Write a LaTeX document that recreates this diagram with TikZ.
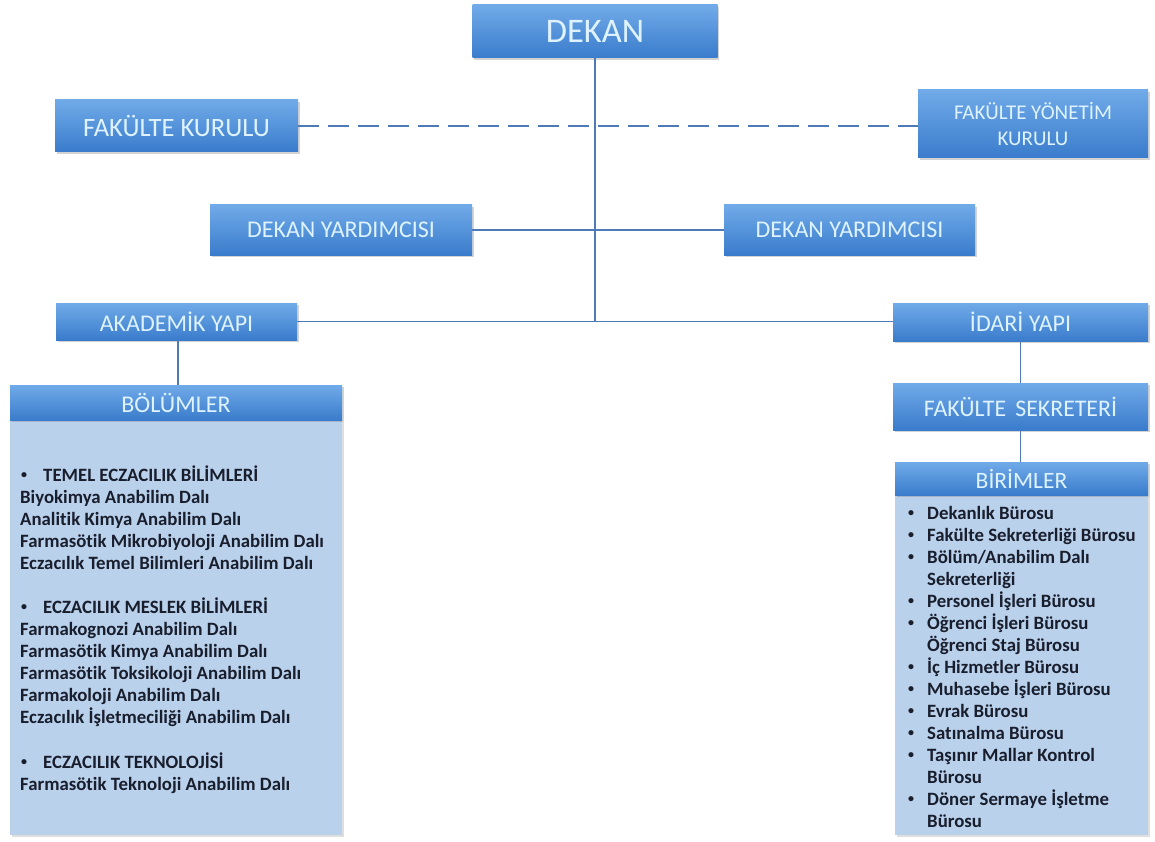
\documentclass[tikz,border=0pt]{standalone}
\usepackage{fontspec}
\setmainfont{Carlito}[Ligatures=NoCommon]
\usetikzlibrary{shadows}
\definecolor{boxtop}{RGB}{112,170,232}
\definecolor{boxbot}{RGB}{58,124,204}
\definecolor{boxtext}{RGB}{222,243,255}
\definecolor{bodyfill}{RGB}{186,209,236}
\definecolor{linec}{RGB}{78,122,184}
\definecolor{bodytext}{RGB}{25,30,45}
\tikzset{
  bluebox/.style={rectangle, inner sep=2pt, top color=boxtop, bottom color=boxbot, draw=none,
    text=boxtext, align=center,
    drop shadow={opacity=0.35, shadow xshift=1.5pt, shadow yshift=-2pt}},
  bodybox/.style={rectangle, fill=bodyfill, draw=none,
    drop shadow={opacity=0.25, shadow xshift=1.5pt, shadow yshift=-2pt}},
  conn/.style={draw=linec, line width=1.8pt},
  dashconn/.style={draw=linec, line width=2.4pt, dash pattern=on 21pt off 9pt},
  itemtxt/.style={anchor=base west, inner sep=0pt, text=bodytext, font=\fontsize{18.8}{20}\selectfont\bfseries},
  bul/.style={anchor=base west, inner sep=0pt, text=bodytext, font=\fontsize{12}{12}\selectfont\bfseries},
}
\begin{document}
\begin{tikzpicture}[x=1pt,y=-1pt]
\useasboundingbox (0,0) rectangle (1155,842);
% body boxes
\node[bodybox, minimum width=332pt, minimum height=415pt] (bolbody) at (176,627.5) {};
\node[bodybox, minimum width=253pt, minimum height=340pt] (birbody) at (1021.5,665) {};
% boxes
\node[bluebox, minimum width=245pt, minimum height=53pt, font=\fontsize{34.5}{38}\selectfont] (dekan) at (595,31.5) {DEKAN};
\node[bluebox, minimum width=243pt, minimum height=52pt, font=\fontsize{26.5}{30}\selectfont] (fk) at (176.5,126) {FAKÜLTE KURULU};
\node[bluebox, minimum width=230pt, minimum height=68pt, font=\fontsize{21}{26}\selectfont] (fyk) at (1033,124) {FAKÜLTE YÖNETİM\\KURULU};
\node[bluebox, minimum width=262pt, minimum height=50pt, font=\fontsize{24}{28}\selectfont] (dy1) at (341,230) {DEKAN YARDIMCISI};
\node[bluebox, minimum width=251pt, minimum height=50pt, font=\fontsize{24}{28}\selectfont] (dy2) at (849.5,230) {DEKAN YARDIMCISI};
\node[bluebox, minimum width=241pt, minimum height=37pt, font=\fontsize{24}{28}\selectfont] (ay) at (176.5,321.5) {AKADEMİK YAPI};
\node[bluebox, minimum width=255pt, minimum height=38pt, font=\fontsize{24}{28}\selectfont] (iy) at (1020.5,322) {İDARİ YAPI};
\node[bluebox, minimum width=255pt, minimum height=47pt, font=\fontsize{23.8}{28}\selectfont] (fs) at (1020.5,406.5) {FAKÜLTE \,SEKRETERİ};
\node[bluebox, minimum width=332pt, minimum height=35pt, font=\fontsize{24}{28}\selectfont] (bol) at (176,402.5) {BÖLÜMLER};
\node[bluebox, minimum width=253pt, minimum height=33pt, font=\fontsize{23.5}{28}\selectfont] (bir) at (1021.5,478.5) {BİRİMLER};
% connectors
\draw[dashconn] (fk.east) -- (fk.east -| fyk.west);
\draw[conn] (dekan.south) -- (dekan.south |- ay.east);
\draw[conn] (dy1.east) -- (dy2.west);
\draw[conn] (ay.east) -- (ay.east -| iy.west);
\draw[conn] (ay.south -| 178,0) -- (bol.north -| 178,0);
\draw[conn] (iy.south) -- (fs.north);
\draw[conn] (fs.south) -- (fs.south |- bir.north);
% BÖLÜMLER text
\node[bul] (bb1) at (21,478) {•};
\node[itemtxt] (b1h) at (43,481) {TEMEL ECZACILIK BİLİMLERİ};
\node[itemtxt] (b1a) at (20,503) {Biyokimya Anabilim Dalı};
\node[itemtxt] (b1b) at (20,525) {Analitik Kimya Anabilim Dalı};
\node[itemtxt] (b1c) at (20,547) {Farmasötik Mikrobiyoloji Anabilim Dalı};
\node[itemtxt] (b1d) at (20,569) {Eczacılık Temel Bilimleri Anabilim Dalı};
\node[bul] (bb2) at (21,610) {•};
\node[itemtxt] (b2h) at (43,613) {ECZACILIK MESLEK BİLİMLERİ};
\node[itemtxt] (b2a) at (20,635) {Farmakognozi Anabilim Dalı};
\node[itemtxt] (b2b) at (20,657) {Farmasötik Kimya Anabilim Dalı};
\node[itemtxt] (b2c) at (20,679) {Farmasötik Toksikoloji Anabilim Dalı};
\node[itemtxt] (b2d) at (20,701) {Farmakoloji Anabilim Dalı};
\node[itemtxt] (b2e) at (20,723) {Eczacılık İşletmeciliği Anabilim Dalı};
\node[bul] (bb3) at (21,765) {•};
\node[itemtxt] (b3h) at (43,768) {ECZACILIK TEKNOLOJİSİ};
\node[itemtxt] (b3a) at (20,790) {Farmasötik Teknoloji Anabilim Dalı};
% BİRİMLER text
\foreach \n/\yy in {1/516,2/538,3/560,5/604,6/626,8/670,9/692,10/714,11/736,12/758,14/802}
  \node[bul] (bul\n) at (908,\yy) {•};
\node[itemtxt] (r1) at (927,519) {Dekanlık Bürosu};
\node[itemtxt] (r2) at (927,541) {Fakülte Sekreterliği Bürosu};
\node[itemtxt] (r3) at (927,563) {Bölüm/Anabilim Dalı};
\node[itemtxt] (r4) at (927,585) {Sekreterliği};
\node[itemtxt] (r5) at (927,607) {Personel İşleri Bürosu};
\node[itemtxt] (r6) at (927,629) {Öğrenci İşleri Bürosu};
\node[itemtxt] (r7) at (927,651) {Öğrenci Staj Bürosu};
\node[itemtxt] (r8) at (927,673) {İç Hizmetler Bürosu};
\node[itemtxt] (r9) at (927,695) {Muhasebe İşleri Bürosu};
\node[itemtxt] (r10) at (927,717) {Evrak Bürosu};
\node[itemtxt] (r11) at (927,739) {Satınalma Bürosu};
\node[itemtxt] (r12) at (927,761) {Taşınır Mallar Kontrol};
\node[itemtxt] (r13) at (927,783) {Bürosu};
\node[itemtxt] (r14) at (927,805) {Döner Sermaye İşletme};
\node[itemtxt] (r15) at (927,827) {Bürosu};
\end{tikzpicture}
\end{document}
